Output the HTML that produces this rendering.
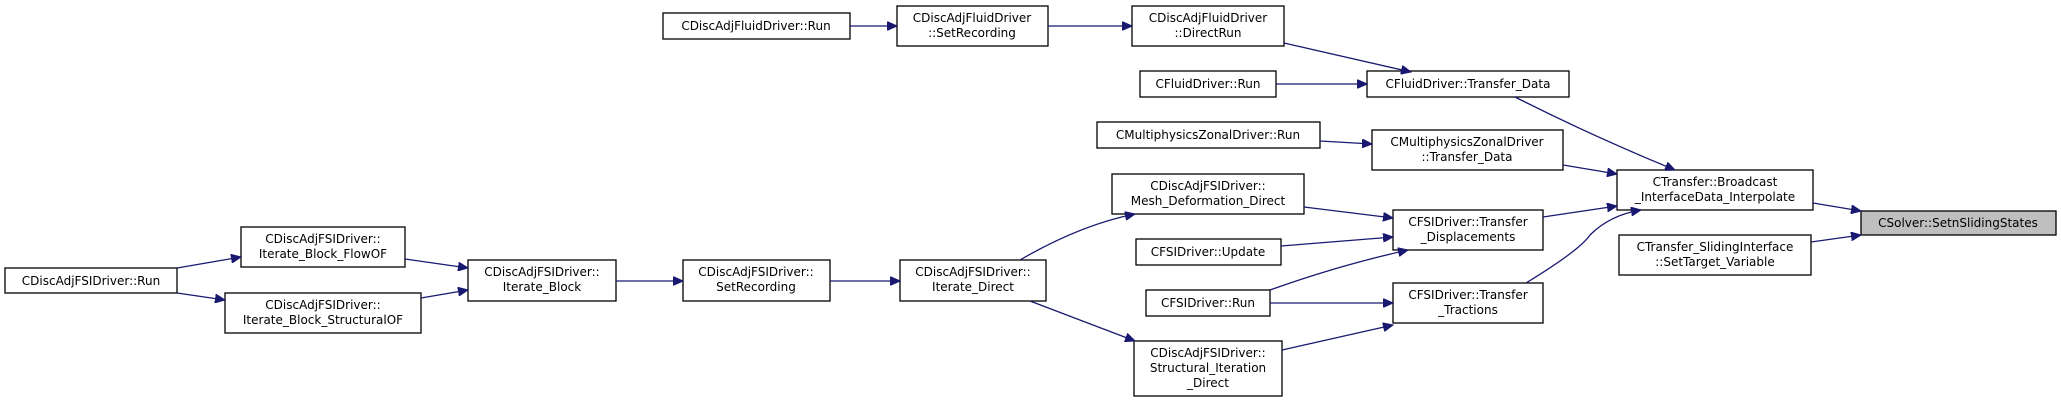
<!DOCTYPE html>
<html><head><meta charset="utf-8"><style>
html,body{margin:0;padding:0;background:#fff;}
svg{display:block;}
text{font-family:"DejaVu Sans","Liberation Sans",sans-serif;font-size:12px;fill:#000;}
rect{fill:#fff;stroke:#000;stroke-width:1.3;}
path{fill:none;stroke:#191970;stroke-width:1.3;}
</style></head><body>
<svg width="2061" height="402" viewBox="0 0 2061 402" xmlns="http://www.w3.org/2000/svg">
<defs><marker id="a" markerWidth="11" markerHeight="9" refX="10" refY="4.5" orient="auto" markerUnits="userSpaceOnUse"><polygon points="0,0 10,4.5 0,9" fill="#191970" stroke="#191970"/></marker></defs>
<g text-anchor="middle">
<!-- nodes -->
<rect x="663" y="13" width="187" height="26"/><text x="756" y="30">CDiscAdjFluidDriver::Run</text>
<rect x="897" y="6" width="151" height="40"/><text x="972" y="22">CDiscAdjFluidDriver</text><text x="972" y="37">::SetRecording</text>
<rect x="1132" y="6" width="152" height="40"/><text x="1208" y="22">CDiscAdjFluidDriver</text><text x="1208" y="37">::DirectRun</text>
<rect x="1140" y="71" width="136" height="26"/><text x="1208" y="88">CFluidDriver::Run</text>
<rect x="1367" y="71" width="202" height="26"/><text x="1468" y="88">CFluidDriver::Transfer_Data</text>
<rect x="1097" y="122" width="223" height="26"/><text x="1208" y="139">CMultiphysicsZonalDriver::Run</text>
<rect x="1372" y="130" width="191" height="40"/><text x="1467" y="146">CMultiphysicsZonalDriver</text><text x="1467" y="161">::Transfer_Data</text>
<rect x="1112" y="174" width="192" height="40"/><text x="1208" y="190">CDiscAdjFSIDriver::</text><text x="1208" y="205">Mesh_Deformation_Direct</text>
<rect x="1393" y="210" width="150" height="40"/><text x="1468" y="226">CFSIDriver::Transfer</text><text x="1468" y="241">_Displacements</text>
<rect x="1136" y="239" width="145" height="26"/><text x="1208" y="256">CFSIDriver::Update</text>
<rect x="1146" y="290" width="124" height="26"/><text x="1208" y="307">CFSIDriver::Run</text>
<rect x="1393" y="283" width="150" height="40"/><text x="1468" y="299">CFSIDriver::Transfer</text><text x="1468" y="314">_Tractions</text>
<rect x="1134" y="341" width="148" height="55"/><text x="1208" y="357">CDiscAdjFSIDriver::</text><text x="1208" y="372">Structural_Iteration</text><text x="1208" y="387">_Direct</text>
<rect x="1617" y="170" width="196" height="40"/><text x="1715" y="186">CTransfer::Broadcast</text><text x="1715" y="201">_InterfaceData_Interpolate</text>
<rect x="1619" y="235" width="192" height="40"/><text x="1715" y="251">CTransfer_SlidingInterface</text><text x="1715" y="266">::SetTarget_Variable</text>
<rect x="1861" y="211" width="195" height="24" style="fill:#bfbfbf"/><text x="1958" y="227">CSolver::SetnSlidingStates</text>
<rect x="5" y="268" width="172" height="25"/><text x="91" y="285">CDiscAdjFSIDriver::Run</text>
<rect x="241" y="227" width="164" height="40"/><text x="323" y="243">CDiscAdjFSIDriver::</text><text x="323" y="258">Iterate_Block_FlowOF</text>
<rect x="225" y="293" width="196" height="40"/><text x="323" y="309">CDiscAdjFSIDriver::</text><text x="323" y="324">Iterate_Block_StructuralOF</text>
<rect x="468" y="260" width="148" height="41"/><text x="542" y="276">CDiscAdjFSIDriver::</text><text x="542" y="291">Iterate_Block</text>
<rect x="683" y="260" width="147" height="41"/><text x="756" y="276">CDiscAdjFSIDriver::</text><text x="756" y="291">SetRecording</text>
<rect x="900" y="260" width="146" height="41"/><text x="973" y="276">CDiscAdjFSIDriver::</text><text x="973" y="291">Iterate_Direct</text>
</g>
<g marker-end="url(#a)">
<path d="M850,26 L897,26"/>
<path d="M1048,26 L1132,26"/>
<path d="M1284,43 L1411,72"/>
<path d="M1276,84 L1367,84"/>
<path d="M1515,97 Q1590,135 1675,170"/>
<path d="M1320,141 L1372,144"/>
<path d="M1563,165 L1617,174"/>
<path d="M1304,207 L1393,218"/>
<path d="M1281,246 L1393,237"/>
<path d="M1270,290 Q1340,265 1408,250"/>
<path d="M1270,303 L1393,303"/>
<path d="M1282,350 L1393,325"/>
<path d="M1543,217 L1617,206"/>
<path d="M1526,283 Q1580,250 1590,235 Q1610,215 1641,210"/>
<path d="M1813,203 L1861,211"/>
<path d="M1811,242 L1861,235"/>
<path d="M177,268 L241,257"/>
<path d="M177,293 L225,300"/>
<path d="M405,259 L468,268"/>
<path d="M421,298 L468,290"/>
<path d="M616,281 L683,281"/>
<path d="M830,281 L900,281"/>
<path d="M1020,260 Q1080,225 1135,214"/>
<path d="M1030,301 L1135,341"/>
</g>
</svg>
</body></html>
